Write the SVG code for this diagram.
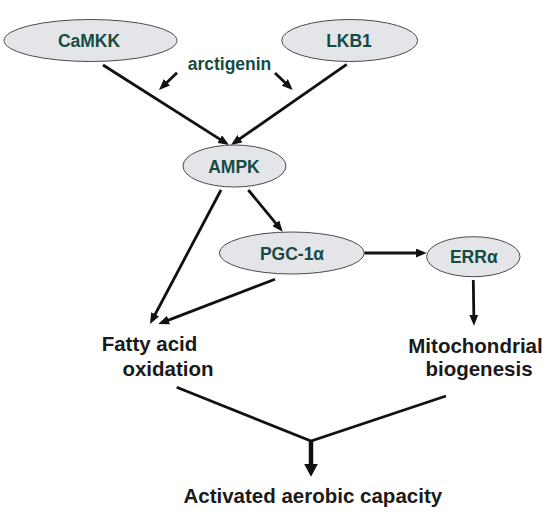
<svg xmlns="http://www.w3.org/2000/svg" width="547" height="519" viewBox="0 0 547 519">
<style>
.node ellipse{fill:#e3e5e9;stroke:#4a4a4a;stroke-width:1}
.nt{font-family:"Liberation Sans",Arial,sans-serif;font-weight:bold;font-size:17.5px;fill:#164b44;text-anchor:middle}
.ot{font-family:"Liberation Sans",Arial,sans-serif;font-weight:bold;font-size:20.5px;fill:#1a1a1a;text-anchor:middle}
.edge{stroke:#111;stroke-width:2.8;fill:none;marker-end:url(#ah)}
</style>
<defs>
<marker id="ah" markerUnits="userSpaceOnUse" markerWidth="11" markerHeight="9" refX="7" refY="4.5" orient="auto">
<path d="M0,0 L11,4.5 L0,9 z" fill="#111"/>
</marker>
<marker id="bah" markerUnits="userSpaceOnUse" markerWidth="13" markerHeight="14" refX="8" refY="7" orient="auto">
<path d="M0,0 L13,7 L0,14 z" fill="#111"/>
</marker>
</defs>
<rect width="547" height="519" fill="#fff"/>
<g id="connectors">
<line class="edge" x1="103" y1="65" x2="225.6" y2="142.9"/>
<line class="edge" x1="346.7" y1="64.3" x2="234.3" y2="142.7"/>
<line class="edge" x1="177" y1="72.7" x2="161.9" y2="87.2"/>
<line class="edge" x1="275" y1="73" x2="289.8" y2="87.2"/>
<line class="edge" x1="248.3" y1="190" x2="280.2" y2="228.6"/>
<line class="edge" x1="221" y1="190" x2="151.9" y2="320.5"/>
<line class="edge" x1="275" y1="279.3" x2="162" y2="322.6"/>
<line class="edge" x1="364.3" y1="253" x2="422.7" y2="253"/>
<line class="edge" x1="473.3" y1="280" x2="473.9" y2="321.7"/>
<polyline points="176.7,387.3 311,441 446,396" stroke="#111" stroke-width="2.8" fill="none" stroke-linejoin="miter"/>
<line x1="311" y1="440" x2="311" y2="471.7" stroke="#111" stroke-width="4.5" marker-end="url(#bah)"/>
</g>
<g id="camkk" class="node"><ellipse cx="90.5" cy="40.5" rx="86.5" ry="21"/><text class="nt" x="89" y="46.7">CaMKK</text></g>
<g id="lkb1" class="node"><ellipse cx="349.7" cy="40.5" rx="68" ry="21"/><text class="nt" x="349" y="46.7">LKB1</text></g>
<g id="arctigenin"><text class="nt" x="229.5" y="70">arctigenin</text></g>
<g id="ampk" class="node"><ellipse cx="234.5" cy="166" rx="51.5" ry="21"/><text class="nt" x="234" y="172.5">AMPK</text></g>
<g id="pgc1a" class="node"><ellipse cx="291.8" cy="253" rx="72.5" ry="21"/><text class="nt" x="292" y="259.5">PGC-1α</text></g>
<g id="erra" class="node"><ellipse cx="473.3" cy="256.7" rx="46.7" ry="20"/><text class="nt" x="473.8" y="263">ERRα</text></g>
<g id="fatty"><text class="ot" x="149.5" y="350.5">Fatty acid</text><text class="ot" x="168" y="376">oxidation</text></g>
<g id="mito"><text class="ot" x="475.5" y="352.7">Mitochondrial</text><text class="ot" x="479" y="376">biogenesis</text></g>
<g id="capacity"><text class="ot" x="312.8" y="503.3">Activated aerobic capacity</text></g>
</svg>
